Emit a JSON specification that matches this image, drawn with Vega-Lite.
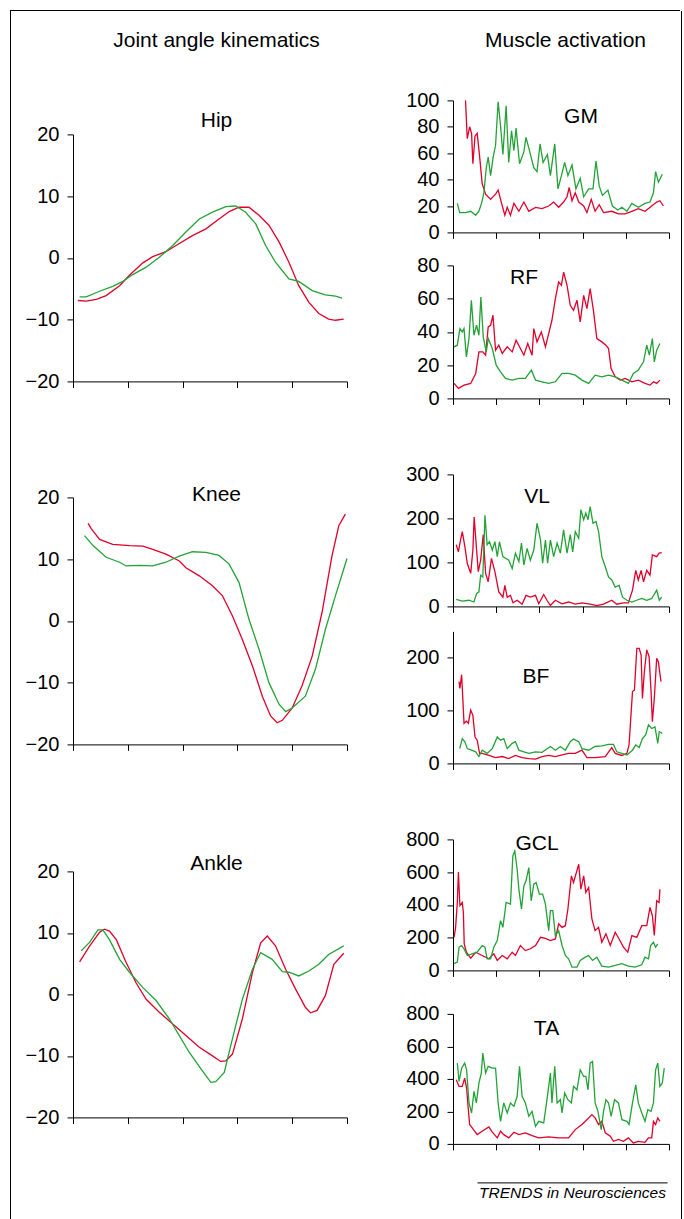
{
"$schema": "https://vega.github.io/schema/vega-lite/v6.json",
"padding": {"left": 10, "top": 10, "right": 0, "bottom": 0},
"config": {
  "font": "Liberation Sans",
  "view": {"stroke": null},
  "axis": {"labelFont": "Liberation Sans", "labelFontSize": 20, "labelColor": "#000", "domainColor": "#000", "tickColor": "#000", "tickSize": 6, "labelPadding": 8, "grid": false, "domainWidth": 1, "tickWidth": 1},
  "title": {"font": "Liberation Sans", "fontSize": 21, "fontWeight": "normal", "color": "#000", "frame": "group", "anchor": "middle"},
  "line": {"strokeWidth": 1.3}
},
"datasets": {
  "hip": [
    {"s":"r","x":1.8,"y":-6.9},{"s":"r","x":4.8,"y":-7.0},{"s":"r","x":8.5,"y":-6.7},{"s":"r","x":12.1,"y":-6.1},{"s":"r","x":17,"y":-4.5},{"s":"r","x":20.6,"y":-2.8},{"s":"r","x":25.5,"y":-0.8},{"s":"r","x":29.1,"y":0.2},{"s":"r","x":33.9,"y":1.0},{"s":"r","x":37.6,"y":2.0},{"s":"r","x":43.6,"y":3.6},{"s":"r","x":48.5,"y":4.7},{"s":"r","x":53.3,"y":6.3},{"s":"r","x":57,"y":7.5},{"s":"r","x":60.6,"y":8.2},{"s":"r","x":64.2,"y":8.2},{"s":"r","x":67.9,"y":6.9},{"s":"r","x":71.5,"y":5.3},{"s":"r","x":75.2,"y":2.6},{"s":"r","x":78.8,"y":-0.7},{"s":"r","x":82.4,"y":-4.5},{"s":"r","x":86.1,"y":-7.2},{"s":"r","x":89.7,"y":-9.0},{"s":"r","x":93.3,"y":-9.9},{"s":"r","x":95.8,"y":-10.1},{"s":"r","x":98.8,"y":-9.9},
    {"s":"g","x":2.4,"y":-6.3},{"s":"g","x":4.8,"y":-6.3},{"s":"g","x":9.7,"y":-5.4},{"s":"g","x":14.5,"y":-4.6},{"s":"g","x":18.2,"y":-3.8},{"s":"g","x":21.8,"y":-2.7},{"s":"g","x":26.7,"y":-1.5},{"s":"g","x":31.5,"y":0.1},{"s":"g","x":36.4,"y":2.0},{"s":"g","x":41.2,"y":4.2},{"s":"g","x":46.1,"y":6.3},{"s":"g","x":50.9,"y":7.4},{"s":"g","x":55.8,"y":8.3},{"s":"g","x":59.4,"y":8.4},{"s":"g","x":63,"y":7.4},{"s":"g","x":66.7,"y":5.5},{"s":"g","x":70.3,"y":2.0},{"s":"g","x":73.9,"y":-0.7},{"s":"g","x":78.8,"y":-3.4},{"s":"g","x":82.4,"y":-3.8},{"s":"g","x":87.3,"y":-5.3},{"s":"g","x":92.1,"y":-6.0},{"s":"g","x":95.8,"y":-6.2},{"s":"g","x":98.2,"y":-6.5}
  ],
  "knee": [
    {"s":"r","x":5.5,"y":15.8},{"s":"r","x":6.7,"y":14.9},{"s":"r","x":9.7,"y":13.2},{"s":"r","x":14.5,"y":12.4},{"s":"r","x":20.6,"y":12.2},{"s":"r","x":25.5,"y":12.1},{"s":"r","x":29.1,"y":11.6},{"s":"r","x":33.9,"y":10.8},{"s":"r","x":38.8,"y":9.7},{"s":"r","x":41.2,"y":8.6},{"s":"r","x":46.1,"y":7.3},{"s":"r","x":50.9,"y":5.7},{"s":"r","x":54.5,"y":4.1},{"s":"r","x":58.2,"y":0.8},{"s":"r","x":61.8,"y":-3.0},{"s":"r","x":65.5,"y":-7.3},{"s":"r","x":69.1,"y":-12.2},{"s":"r","x":72.1,"y":-15.4},{"s":"r","x":74.5,"y":-16.5},{"s":"r","x":76.4,"y":-16.1},{"s":"r","x":80,"y":-14.1},{"s":"r","x":83.6,"y":-10.5},{"s":"r","x":87.3,"y":-5.7},{"s":"r","x":90.9,"y":1.4},{"s":"r","x":94.5,"y":10.5},{"s":"r","x":97,"y":15.4},{"s":"r","x":99.4,"y":17.3},
    {"s":"g","x":4.2,"y":13.8},{"s":"g","x":7.3,"y":12.2},{"s":"g","x":12.1,"y":10.3},{"s":"g","x":17,"y":9.5},{"s":"g","x":19.4,"y":8.9},{"s":"g","x":24.2,"y":9.0},{"s":"g","x":29.1,"y":8.9},{"s":"g","x":33.9,"y":9.5},{"s":"g","x":38.8,"y":10.5},{"s":"g","x":43.6,"y":11.2},{"s":"g","x":48.5,"y":11.1},{"s":"g","x":53.3,"y":10.6},{"s":"g","x":57,"y":9.2},{"s":"g","x":60.6,"y":6.2},{"s":"g","x":64.2,"y":0.3},{"s":"g","x":67.9,"y":-4.6},{"s":"g","x":71.5,"y":-10.0},{"s":"g","x":75.2,"y":-13.5},{"s":"g","x":77.6,"y":-14.7},{"s":"g","x":80,"y":-14.1},{"s":"g","x":84.8,"y":-12.2},{"s":"g","x":88.5,"y":-7.8},{"s":"g","x":92.1,"y":-1.4},{"s":"g","x":95.8,"y":4.1},{"s":"g","x":100,"y":10.1}
  ],
  "ankle": [
    {"s":"r","x":2.4,"y":5.3},{"s":"r","x":6.1,"y":7.9},{"s":"r","x":9.7,"y":10.1},{"s":"r","x":11.5,"y":10.6},{"s":"r","x":13.3,"y":10.3},{"s":"r","x":15.8,"y":8.9},{"s":"r","x":19.4,"y":5.2},{"s":"r","x":23,"y":1.9},{"s":"r","x":26.7,"y":-0.8},{"s":"r","x":31.5,"y":-2.9},{"s":"r","x":36.4,"y":-4.8},{"s":"r","x":41.2,"y":-6.7},{"s":"r","x":46.1,"y":-8.6},{"s":"r","x":50.9,"y":-10.0},{"s":"r","x":53.9,"y":-10.9},{"s":"r","x":55.8,"y":-10.8},{"s":"r","x":58.2,"y":-9.7},{"s":"r","x":61.8,"y":-4.0},{"s":"r","x":65.5,"y":3.6},{"s":"r","x":68.5,"y":8.4},{"s":"r","x":70.9,"y":9.5},{"s":"r","x":73.9,"y":7.9},{"s":"r","x":77.6,"y":4.1},{"s":"r","x":81.2,"y":0.9},{"s":"r","x":84.8,"y":-2.1},{"s":"r","x":86.7,"y":-3.0},{"s":"r","x":89.1,"y":-2.6},{"s":"r","x":92.1,"y":-0.2},{"s":"r","x":95.2,"y":4.9},{"s":"r","x":98.8,"y":6.7},
    {"s":"g","x":3,"y":7.1},{"s":"g","x":6.1,"y":8.5},{"s":"g","x":9.1,"y":10.5},{"s":"g","x":10.9,"y":10.5},{"s":"g","x":13.3,"y":8.9},{"s":"g","x":17,"y":5.7},{"s":"g","x":20.6,"y":3.6},{"s":"g","x":25.5,"y":1.1},{"s":"g","x":30.3,"y":-1.0},{"s":"g","x":35.2,"y":-4.0},{"s":"g","x":38.8,"y":-6.7},{"s":"g","x":42.4,"y":-9.4},{"s":"g","x":46.7,"y":-12.1},{"s":"g","x":50.3,"y":-14.3},{"s":"g","x":52.1,"y":-14.2},{"s":"g","x":55.2,"y":-12.7},{"s":"g","x":58.2,"y":-7.2},{"s":"g","x":61.8,"y":-0.8},{"s":"g","x":65.5,"y":4.1},{"s":"g","x":68.5,"y":6.8},{"s":"g","x":72.7,"y":5.7},{"s":"g","x":76.4,"y":3.7},{"s":"g","x":78.8,"y":3.6},{"s":"g","x":82.4,"y":3.0},{"s":"g","x":86.1,"y":3.8},{"s":"g","x":89.7,"y":4.9},{"s":"g","x":93.3,"y":6.5},{"s":"g","x":98.8,"y":7.9}
  ],
  "GM": [
    {"s":"r","x":5.8,"y":100},{"s":"r","x":6.6,"y":71},{"s":"r","x":7.7,"y":80},{"s":"r","x":8.6,"y":75},{"s":"r","x":9.2,"y":52},{"s":"r","x":10.2,"y":73},{"s":"r","x":11.2,"y":75},{"s":"r","x":12.3,"y":58},{"s":"r","x":13.5,"y":37},{"s":"r","x":15.1,"y":29},{"s":"r","x":17.4,"y":25},{"s":"r","x":19.7,"y":29},{"s":"r","x":20.9,"y":32},{"s":"r","x":22.5,"y":22},{"s":"r","x":24,"y":13},{"s":"r","x":25.1,"y":19},{"s":"r","x":26.6,"y":13},{"s":"r","x":28.2,"y":22},{"s":"r","x":30.5,"y":16},{"s":"r","x":32.8,"y":23},{"s":"r","x":35.1,"y":16},{"s":"r","x":38.2,"y":19},{"s":"r","x":41.2,"y":18},{"s":"r","x":44.3,"y":20},{"s":"r","x":46.6,"y":23},{"s":"r","x":48.9,"y":19},{"s":"r","x":51.2,"y":23},{"s":"r","x":52.8,"y":27},{"s":"r","x":53.8,"y":34},{"s":"r","x":55.1,"y":24},{"s":"r","x":56.6,"y":30},{"s":"r","x":58.2,"y":23},{"s":"r","x":60.5,"y":20},{"s":"r","x":62,"y":15},{"s":"r","x":64,"y":25},{"s":"r","x":65.8,"y":16},{"s":"r","x":67.7,"y":21},{"s":"r","x":69.7,"y":15},{"s":"r","x":73.5,"y":16},{"s":"r","x":76.6,"y":14},{"s":"r","x":79.7,"y":14},{"s":"r","x":82.8,"y":16},{"s":"r","x":85.8,"y":18},{"s":"r","x":88.9,"y":16},{"s":"r","x":92,"y":20},{"s":"r","x":94.3,"y":23},{"s":"r","x":95.8,"y":24},{"s":"r","x":97.4,"y":20},
    {"s":"g","x":2,"y":22},{"s":"g","x":3.1,"y":15},{"s":"g","x":5.8,"y":15},{"s":"g","x":8.2,"y":16},{"s":"g","x":10.5,"y":13},{"s":"g","x":12,"y":16},{"s":"g","x":13.2,"y":22},{"s":"g","x":14.3,"y":30},{"s":"g","x":15.4,"y":49},{"s":"g","x":16.3,"y":57},{"s":"g","x":17.4,"y":43},{"s":"g","x":18.6,"y":57},{"s":"g","x":19.7,"y":66},{"s":"g","x":20.9,"y":99},{"s":"g","x":22,"y":81},{"s":"g","x":23.1,"y":59},{"s":"g","x":24.6,"y":96},{"s":"g","x":25.8,"y":53},{"s":"g","x":27.1,"y":77},{"s":"g","x":28.2,"y":62},{"s":"g","x":29.2,"y":79},{"s":"g","x":30.8,"y":52},{"s":"g","x":32.8,"y":61},{"s":"g","x":33.8,"y":72},{"s":"g","x":35.4,"y":62},{"s":"g","x":37.4,"y":49},{"s":"g","x":38.9,"y":46},{"s":"g","x":40.3,"y":67},{"s":"g","x":41.7,"y":53},{"s":"g","x":43.7,"y":59},{"s":"g","x":45.1,"y":43},{"s":"g","x":47.1,"y":67},{"s":"g","x":48.6,"y":33},{"s":"g","x":50.2,"y":43},{"s":"g","x":51.7,"y":53},{"s":"g","x":53.2,"y":43},{"s":"g","x":55.1,"y":51},{"s":"g","x":56.9,"y":33},{"s":"g","x":58.9,"y":41},{"s":"g","x":60.5,"y":27},{"s":"g","x":62.8,"y":33},{"s":"g","x":64.8,"y":33},{"s":"g","x":66.2,"y":54},{"s":"g","x":67.7,"y":35},{"s":"g","x":69.2,"y":28},{"s":"g","x":71.7,"y":32},{"s":"g","x":73.8,"y":20},{"s":"g","x":76.3,"y":17},{"s":"g","x":78.2,"y":19},{"s":"g","x":80.5,"y":16},{"s":"g","x":82.8,"y":22},{"s":"g","x":85.8,"y":19},{"s":"g","x":88.9,"y":22},{"s":"g","x":91.2,"y":23},{"s":"g","x":92.8,"y":30},{"s":"g","x":93.8,"y":46},{"s":"g","x":95.1,"y":38},{"s":"g","x":96.9,"y":44}
  ],
  "RF": [
    {"s":"r","x":0.5,"y":9},{"s":"r","x":2.5,"y":6},{"s":"r","x":5.1,"y":8},{"s":"r","x":8.2,"y":9},{"s":"r","x":10.5,"y":15},{"s":"r","x":12,"y":28},{"s":"r","x":13.8,"y":28},{"s":"r","x":15.1,"y":26},{"s":"r","x":16.3,"y":43},{"s":"r","x":17.4,"y":44},{"s":"r","x":18.5,"y":50},{"s":"r","x":19.7,"y":29},{"s":"r","x":21.2,"y":32},{"s":"r","x":22.8,"y":27},{"s":"r","x":25.1,"y":31},{"s":"r","x":27.4,"y":28},{"s":"r","x":29.2,"y":35},{"s":"r","x":31.2,"y":30},{"s":"r","x":32.8,"y":26},{"s":"r","x":34.6,"y":33},{"s":"r","x":36.6,"y":26},{"s":"r","x":37.4,"y":42},{"s":"r","x":38.9,"y":34},{"s":"r","x":40.9,"y":40},{"s":"r","x":42.8,"y":31},{"s":"r","x":44.3,"y":39},{"s":"r","x":45.8,"y":47},{"s":"r","x":47.4,"y":60},{"s":"r","x":48.9,"y":70},{"s":"r","x":50.2,"y":68},{"s":"r","x":51.2,"y":76},{"s":"r","x":52.8,"y":68},{"s":"r","x":54.3,"y":56},{"s":"r","x":55.8,"y":53},{"s":"r","x":57.4,"y":59},{"s":"r","x":58.9,"y":46},{"s":"r","x":60.5,"y":62},{"s":"r","x":62,"y":54},{"s":"r","x":63.5,"y":66},{"s":"r","x":65.1,"y":52},{"s":"r","x":66.6,"y":36},{"s":"r","x":68.9,"y":34},{"s":"r","x":70.8,"y":32},{"s":"r","x":72,"y":30},{"s":"r","x":73.2,"y":18},{"s":"r","x":75.1,"y":13},{"s":"r","x":77.4,"y":11},{"s":"r","x":79.7,"y":12},{"s":"r","x":82.8,"y":10},{"s":"r","x":85.8,"y":11},{"s":"r","x":88.9,"y":9},{"s":"r","x":91.2,"y":8},{"s":"r","x":92.8,"y":10},{"s":"r","x":94.3,"y":9},{"s":"r","x":95.8,"y":11},
    {"s":"g","x":0.5,"y":31},{"s":"g","x":2,"y":32},{"s":"g","x":3.2,"y":42},{"s":"g","x":4.3,"y":40},{"s":"g","x":5.1,"y":42},{"s":"g","x":6.2,"y":25},{"s":"g","x":7.4,"y":36},{"s":"g","x":8.5,"y":59},{"s":"g","x":9.7,"y":38},{"s":"g","x":10.9,"y":44},{"s":"g","x":12,"y":38},{"s":"g","x":12.9,"y":61},{"s":"g","x":14,"y":37},{"s":"g","x":15.4,"y":28},{"s":"g","x":16.3,"y":36},{"s":"g","x":18.2,"y":30},{"s":"g","x":20,"y":20},{"s":"g","x":22,"y":16},{"s":"g","x":24.3,"y":12},{"s":"g","x":27.4,"y":11},{"s":"g","x":30.5,"y":12},{"s":"g","x":33.5,"y":12},{"s":"g","x":36.3,"y":17},{"s":"g","x":38.2,"y":11},{"s":"g","x":41.2,"y":10},{"s":"g","x":44.3,"y":9},{"s":"g","x":47.4,"y":10},{"s":"g","x":50.5,"y":15},{"s":"g","x":53.5,"y":15},{"s":"g","x":56.6,"y":14},{"s":"g","x":59.7,"y":11},{"s":"g","x":62.8,"y":9},{"s":"g","x":65.8,"y":14},{"s":"g","x":68.9,"y":13},{"s":"g","x":72,"y":14},{"s":"g","x":75.1,"y":13},{"s":"g","x":78.2,"y":11},{"s":"g","x":81.2,"y":9},{"s":"g","x":83.5,"y":15},{"s":"g","x":85.8,"y":17},{"s":"g","x":88.2,"y":22},{"s":"g","x":89.7,"y":32},{"s":"g","x":90.9,"y":26},{"s":"g","x":92.3,"y":36},{"s":"g","x":93.2,"y":22},{"s":"g","x":94.3,"y":29},{"s":"g","x":95.8,"y":33}
  ],
  "VL": [
    {"s":"r","x":1.5,"y":140},{"s":"r","x":2.5,"y":124},{"s":"r","x":3.5,"y":151},{"s":"r","x":4.3,"y":170},{"s":"r","x":5.5,"y":136},{"s":"r","x":6.6,"y":98},{"s":"r","x":8.2,"y":75},{"s":"r","x":9.2,"y":128},{"s":"r","x":9.8,"y":203},{"s":"r","x":10.8,"y":136},{"s":"r","x":11.7,"y":79},{"s":"r","x":12.8,"y":105},{"s":"r","x":14,"y":163},{"s":"r","x":15.1,"y":75},{"s":"r","x":16.3,"y":56},{"s":"r","x":17.8,"y":109},{"s":"r","x":19.4,"y":79},{"s":"r","x":21.2,"y":33},{"s":"r","x":23.1,"y":21},{"s":"r","x":24,"y":48},{"s":"r","x":25.1,"y":21},{"s":"r","x":26.6,"y":25},{"s":"r","x":27.8,"y":8},{"s":"r","x":29.7,"y":14},{"s":"r","x":32,"y":5},{"s":"r","x":33.8,"y":25},{"s":"r","x":35.8,"y":21},{"s":"r","x":38.2,"y":25},{"s":"r","x":39.7,"y":6},{"s":"r","x":42,"y":27},{"s":"r","x":43.5,"y":14},{"s":"r","x":45.1,"y":2},{"s":"r","x":47.4,"y":14},{"s":"r","x":50.5,"y":6},{"s":"r","x":53.5,"y":10},{"s":"r","x":56.6,"y":5},{"s":"r","x":59.7,"y":8},{"s":"r","x":63.5,"y":5},{"s":"r","x":66.6,"y":2},{"s":"r","x":69.7,"y":5},{"s":"r","x":73.5,"y":14},{"s":"r","x":75.8,"y":5},{"s":"r","x":78.9,"y":8},{"s":"r","x":81.2,"y":8},{"s":"r","x":83.1,"y":37},{"s":"r","x":84.6,"y":82},{"s":"r","x":85.8,"y":60},{"s":"r","x":87.1,"y":82},{"s":"r","x":88.2,"y":56},{"s":"r","x":89.7,"y":82},{"s":"r","x":91.2,"y":71},{"s":"r","x":92.3,"y":117},{"s":"r","x":94.3,"y":113},{"s":"r","x":95.4,"y":121},{"s":"r","x":96.6,"y":122},
    {"s":"g","x":1.5,"y":16},{"s":"g","x":4.3,"y":12},{"s":"g","x":7.4,"y":14},{"s":"g","x":9.7,"y":10},{"s":"g","x":10.9,"y":29},{"s":"g","x":12,"y":33},{"s":"g","x":12.8,"y":71},{"s":"g","x":13.8,"y":67},{"s":"g","x":14.8,"y":207},{"s":"g","x":15.8,"y":140},{"s":"g","x":16.9,"y":147},{"s":"g","x":18.2,"y":128},{"s":"g","x":19.4,"y":147},{"s":"g","x":20.5,"y":113},{"s":"g","x":21.5,"y":147},{"s":"g","x":23.1,"y":113},{"s":"g","x":25.8,"y":105},{"s":"g","x":27.4,"y":86},{"s":"g","x":28.9,"y":121},{"s":"g","x":30.5,"y":102},{"s":"g","x":31.7,"y":144},{"s":"g","x":32.8,"y":94},{"s":"g","x":34.3,"y":132},{"s":"g","x":35.8,"y":105},{"s":"g","x":37.4,"y":128},{"s":"g","x":38.9,"y":189},{"s":"g","x":40.5,"y":151},{"s":"g","x":41.5,"y":98},{"s":"g","x":42.8,"y":151},{"s":"g","x":43.8,"y":98},{"s":"g","x":45.1,"y":151},{"s":"g","x":46.6,"y":113},{"s":"g","x":48.2,"y":144},{"s":"g","x":49.7,"y":121},{"s":"g","x":51.2,"y":174},{"s":"g","x":52.8,"y":121},{"s":"g","x":54.3,"y":163},{"s":"g","x":55.4,"y":124},{"s":"g","x":56.6,"y":170},{"s":"g","x":58.2,"y":155},{"s":"g","x":59.2,"y":220},{"s":"g","x":60.5,"y":197},{"s":"g","x":61.5,"y":212},{"s":"g","x":62.5,"y":197},{"s":"g","x":63.5,"y":227},{"s":"g","x":64.8,"y":189},{"s":"g","x":66.2,"y":193},{"s":"g","x":67.4,"y":170},{"s":"g","x":68.9,"y":113},{"s":"g","x":70.5,"y":90},{"s":"g","x":72,"y":67},{"s":"g","x":73.5,"y":60},{"s":"g","x":75.1,"y":44},{"s":"g","x":76.9,"y":48},{"s":"g","x":78.5,"y":21},{"s":"g","x":80.5,"y":14},{"s":"g","x":82.8,"y":10},{"s":"g","x":85,"y":14},{"s":"g","x":87.4,"y":18},{"s":"g","x":89.7,"y":14},{"s":"g","x":92,"y":18},{"s":"g","x":94.3,"y":37},{"s":"g","x":95.5,"y":14},{"s":"g","x":96.6,"y":21}
  ],
  "BF": [
    {"s":"r","x":2.8,"y":155},{"s":"r","x":3.2,"y":142},{"s":"r","x":4,"y":168},{"s":"r","x":5.1,"y":76},{"s":"r","x":6.2,"y":80},{"s":"r","x":7.1,"y":76},{"s":"r","x":8.2,"y":101},{"s":"r","x":9.2,"y":91},{"s":"r","x":10.2,"y":50},{"s":"r","x":11.2,"y":44},{"s":"r","x":12.3,"y":19},{"s":"r","x":13.5,"y":19},{"s":"r","x":16.6,"y":15},{"s":"r","x":19.7,"y":11},{"s":"r","x":22.8,"y":13},{"s":"r","x":25.8,"y":9},{"s":"r","x":28.9,"y":15},{"s":"r","x":32,"y":11},{"s":"r","x":35.1,"y":9},{"s":"r","x":38.2,"y":8},{"s":"r","x":41.2,"y":13},{"s":"r","x":44.3,"y":15},{"s":"r","x":47.4,"y":13},{"s":"r","x":50.5,"y":16},{"s":"r","x":53.5,"y":19},{"s":"r","x":56.6,"y":19},{"s":"r","x":59.7,"y":25},{"s":"r","x":62,"y":11},{"s":"r","x":65.8,"y":11},{"s":"r","x":70.5,"y":13},{"s":"r","x":73.5,"y":30},{"s":"r","x":75.1,"y":19},{"s":"r","x":78.2,"y":15},{"s":"r","x":80.5,"y":19},{"s":"r","x":81.5,"y":35},{"s":"r","x":82.5,"y":98},{"s":"r","x":83.1,"y":136},{"s":"r","x":84,"y":139},{"s":"r","x":85.1,"y":218},{"s":"r","x":86.2,"y":218},{"s":"r","x":87.1,"y":205},{"s":"r","x":87.7,"y":123},{"s":"r","x":88.6,"y":174},{"s":"r","x":89.7,"y":215},{"s":"r","x":90.8,"y":202},{"s":"r","x":91.7,"y":136},{"s":"r","x":92.3,"y":79},{"s":"r","x":93.2,"y":123},{"s":"r","x":94.3,"y":199},{"s":"r","x":95.1,"y":192},{"s":"r","x":95.8,"y":170},{"s":"r","x":96.3,"y":155},
    {"s":"g","x":3.1,"y":28},{"s":"g","x":4.3,"y":47},{"s":"g","x":5.5,"y":41},{"s":"g","x":6.6,"y":28},{"s":"g","x":8.6,"y":25},{"s":"g","x":10.5,"y":22},{"s":"g","x":12,"y":13},{"s":"g","x":13.5,"y":25},{"s":"g","x":15.8,"y":19},{"s":"g","x":18.2,"y":28},{"s":"g","x":20.5,"y":50},{"s":"g","x":22,"y":44},{"s":"g","x":23.5,"y":47},{"s":"g","x":25.1,"y":28},{"s":"g","x":27.4,"y":38},{"s":"g","x":28.9,"y":41},{"s":"g","x":30.5,"y":25},{"s":"g","x":32.8,"y":22},{"s":"g","x":35.1,"y":19},{"s":"g","x":38.2,"y":22},{"s":"g","x":41.2,"y":21},{"s":"g","x":45.1,"y":32},{"s":"g","x":47.4,"y":25},{"s":"g","x":49.7,"y":32},{"s":"g","x":52,"y":25},{"s":"g","x":54.3,"y":41},{"s":"g","x":55.8,"y":46},{"s":"g","x":58.2,"y":41},{"s":"g","x":59.7,"y":28},{"s":"g","x":62.8,"y":25},{"s":"g","x":65.8,"y":32},{"s":"g","x":68.9,"y":33},{"s":"g","x":72,"y":36},{"s":"g","x":74.3,"y":36},{"s":"g","x":75.8,"y":22},{"s":"g","x":78.2,"y":19},{"s":"g","x":80.5,"y":16},{"s":"g","x":83.1,"y":25},{"s":"g","x":84.6,"y":35},{"s":"g","x":86.2,"y":30},{"s":"g","x":87.7,"y":47},{"s":"g","x":89.2,"y":54},{"s":"g","x":90.5,"y":73},{"s":"g","x":92,"y":66},{"s":"g","x":93.5,"y":69},{"s":"g","x":94.8,"y":38},{"s":"g","x":95.5,"y":60},{"s":"g","x":96.9,"y":57}
  ],
  "GCL": [
    {"s":"r","x":0.5,"y":202},{"s":"r","x":1.2,"y":263},{"s":"r","x":2,"y":415},{"s":"r","x":2.5,"y":601},{"s":"r","x":3.2,"y":395},{"s":"r","x":4.3,"y":415},{"s":"r","x":4.8,"y":354},{"s":"r","x":5.2,"y":162},{"s":"r","x":6.2,"y":111},{"s":"r","x":8.2,"y":75},{"s":"r","x":10.5,"y":111},{"s":"r","x":13.5,"y":91},{"s":"r","x":16.6,"y":71},{"s":"r","x":18.9,"y":101},{"s":"r","x":20.5,"y":61},{"s":"r","x":22.8,"y":91},{"s":"r","x":25.1,"y":71},{"s":"r","x":27.4,"y":111},{"s":"r","x":28.9,"y":91},{"s":"r","x":31.2,"y":152},{"s":"r","x":33.5,"y":121},{"s":"r","x":35.8,"y":132},{"s":"r","x":38.2,"y":152},{"s":"r","x":40.5,"y":202},{"s":"r","x":42.8,"y":196},{"s":"r","x":45.1,"y":182},{"s":"r","x":47.4,"y":192},{"s":"r","x":48.9,"y":284},{"s":"r","x":50.5,"y":263},{"s":"r","x":52,"y":273},{"s":"r","x":53.2,"y":375},{"s":"r","x":54.8,"y":577},{"s":"r","x":55.8,"y":537},{"s":"r","x":57.1,"y":597},{"s":"r","x":58.2,"y":648},{"s":"r","x":59.2,"y":496},{"s":"r","x":60.5,"y":577},{"s":"r","x":61.5,"y":476},{"s":"r","x":62.8,"y":506},{"s":"r","x":64.3,"y":314},{"s":"r","x":65.8,"y":243},{"s":"r","x":67.4,"y":263},{"s":"r","x":68.9,"y":172},{"s":"r","x":70.8,"y":223},{"s":"r","x":72.8,"y":152},{"s":"r","x":75.1,"y":233},{"s":"r","x":76.9,"y":192},{"s":"r","x":78.9,"y":142},{"s":"r","x":80.9,"y":111},{"s":"r","x":82.8,"y":213},{"s":"r","x":85.1,"y":202},{"s":"r","x":87.4,"y":273},{"s":"r","x":89.7,"y":273},{"s":"r","x":91.2,"y":385},{"s":"r","x":92.3,"y":334},{"s":"r","x":93.2,"y":213},{"s":"r","x":94.3,"y":425},{"s":"r","x":95.4,"y":415},{"s":"r","x":95.8,"y":496},
    {"s":"g","x":0.5,"y":41},{"s":"g","x":2,"y":51},{"s":"g","x":2.8,"y":142},{"s":"g","x":4,"y":152},{"s":"g","x":5.1,"y":132},{"s":"g","x":6.6,"y":91},{"s":"g","x":8.9,"y":101},{"s":"g","x":11.2,"y":111},{"s":"g","x":13.5,"y":152},{"s":"g","x":14.8,"y":142},{"s":"g","x":15.8,"y":71},{"s":"g","x":17.4,"y":71},{"s":"g","x":18.9,"y":142},{"s":"g","x":20.5,"y":182},{"s":"g","x":22,"y":304},{"s":"g","x":23.1,"y":263},{"s":"g","x":24.6,"y":415},{"s":"g","x":26.6,"y":405},{"s":"g","x":27.7,"y":699},{"s":"g","x":28.6,"y":729},{"s":"g","x":29.7,"y":618},{"s":"g","x":30.5,"y":496},{"s":"g","x":31.7,"y":375},{"s":"g","x":32.8,"y":516},{"s":"g","x":33.8,"y":547},{"s":"g","x":35.1,"y":628},{"s":"g","x":36.2,"y":425},{"s":"g","x":37.4,"y":527},{"s":"g","x":38.5,"y":537},{"s":"g","x":40,"y":466},{"s":"g","x":41.5,"y":466},{"s":"g","x":42.8,"y":405},{"s":"g","x":44.3,"y":243},{"s":"g","x":45.1,"y":365},{"s":"g","x":46.2,"y":365},{"s":"g","x":47.4,"y":213},{"s":"g","x":48.9,"y":243},{"s":"g","x":50.5,"y":152},{"s":"g","x":52,"y":91},{"s":"g","x":53.5,"y":71},{"s":"g","x":55.1,"y":20},{"s":"g","x":57.4,"y":20},{"s":"g","x":58.9,"y":61},{"s":"g","x":61.2,"y":81},{"s":"g","x":62.8,"y":91},{"s":"g","x":64.6,"y":61},{"s":"g","x":66.6,"y":81},{"s":"g","x":68.9,"y":26},{"s":"g","x":72,"y":20},{"s":"g","x":75.1,"y":30},{"s":"g","x":78.2,"y":41},{"s":"g","x":81.2,"y":26},{"s":"g","x":84.3,"y":20},{"s":"g","x":87.4,"y":34},{"s":"g","x":88.9,"y":81},{"s":"g","x":90.5,"y":71},{"s":"g","x":91.5,"y":152},{"s":"g","x":92.8,"y":172},{"s":"g","x":93.8,"y":142},{"s":"g","x":94.8,"y":162}
  ],
  "TA": [
    {"s":"r","x":1.5,"y":395},{"s":"r","x":2.8,"y":354},{"s":"r","x":4.3,"y":354},{"s":"r","x":5.4,"y":405},{"s":"r","x":6.3,"y":344},{"s":"r","x":7.1,"y":211},{"s":"r","x":7.7,"y":119},{"s":"r","x":8.9,"y":98},{"s":"r","x":11.2,"y":57},{"s":"r","x":13.5,"y":78},{"s":"r","x":16.6,"y":104},{"s":"r","x":18.2,"y":72},{"s":"r","x":20.5,"y":37},{"s":"r","x":22,"y":78},{"s":"r","x":23.5,"y":57},{"s":"r","x":25.8,"y":37},{"s":"r","x":28.2,"y":72},{"s":"r","x":30.5,"y":57},{"s":"r","x":33.5,"y":68},{"s":"r","x":36.6,"y":51},{"s":"r","x":39.7,"y":37},{"s":"r","x":44.3,"y":43},{"s":"r","x":48.9,"y":37},{"s":"r","x":53.5,"y":37},{"s":"r","x":56.6,"y":88},{"s":"r","x":59.7,"y":119},{"s":"r","x":62,"y":149},{"s":"r","x":64.3,"y":180},{"s":"r","x":65.8,"y":160},{"s":"r","x":67.4,"y":119},{"s":"r","x":68.9,"y":139},{"s":"r","x":70.5,"y":68},{"s":"r","x":72.8,"y":47},{"s":"r","x":74.3,"y":16},{"s":"r","x":76.6,"y":27},{"s":"r","x":78.9,"y":16},{"s":"r","x":81.2,"y":37},{"s":"r","x":83.5,"y":6},{"s":"r","x":85.8,"y":16},{"s":"r","x":88.9,"y":10},{"s":"r","x":90.5,"y":37},{"s":"r","x":92,"y":37},{"s":"r","x":92.8,"y":139},{"s":"r","x":93.8,"y":119},{"s":"r","x":94.8,"y":160},{"s":"r","x":95.8,"y":139},
    {"s":"g","x":2,"y":497},{"s":"g","x":2.8,"y":385},{"s":"g","x":4,"y":466},{"s":"g","x":5.4,"y":497},{"s":"g","x":6.3,"y":456},{"s":"g","x":7.4,"y":252},{"s":"g","x":8.6,"y":190},{"s":"g","x":9.7,"y":323},{"s":"g","x":10.8,"y":252},{"s":"g","x":12,"y":374},{"s":"g","x":13.1,"y":436},{"s":"g","x":13.8,"y":559},{"s":"g","x":15.1,"y":436},{"s":"g","x":16.3,"y":477},{"s":"g","x":18.2,"y":466},{"s":"g","x":19.7,"y":466},{"s":"g","x":20.9,"y":252},{"s":"g","x":22,"y":139},{"s":"g","x":23.5,"y":252},{"s":"g","x":25.1,"y":190},{"s":"g","x":26.6,"y":252},{"s":"g","x":28.2,"y":231},{"s":"g","x":29.7,"y":293},{"s":"g","x":30.8,"y":477},{"s":"g","x":32,"y":293},{"s":"g","x":33.5,"y":252},{"s":"g","x":35.1,"y":170},{"s":"g","x":36.6,"y":200},{"s":"g","x":38.2,"y":108},{"s":"g","x":39.7,"y":139},{"s":"g","x":42,"y":129},{"s":"g","x":43.5,"y":272},{"s":"g","x":45.1,"y":436},{"s":"g","x":45.8,"y":252},{"s":"g","x":47.1,"y":477},{"s":"g","x":48.2,"y":252},{"s":"g","x":49.7,"y":272},{"s":"g","x":50.5,"y":190},{"s":"g","x":51.7,"y":313},{"s":"g","x":53.2,"y":272},{"s":"g","x":54.8,"y":252},{"s":"g","x":55.8,"y":354},{"s":"g","x":57.4,"y":333},{"s":"g","x":58.9,"y":456},{"s":"g","x":60.5,"y":415},{"s":"g","x":61.5,"y":415},{"s":"g","x":62.5,"y":333},{"s":"g","x":63.5,"y":497},{"s":"g","x":64.6,"y":507},{"s":"g","x":65.8,"y":252},{"s":"g","x":67.1,"y":200},{"s":"g","x":68.6,"y":88},{"s":"g","x":69.7,"y":200},{"s":"g","x":70.8,"y":272},{"s":"g","x":72,"y":252},{"s":"g","x":73.2,"y":170},{"s":"g","x":74.8,"y":272},{"s":"g","x":76.6,"y":252},{"s":"g","x":78.2,"y":149},{"s":"g","x":80.5,"y":139},{"s":"g","x":81.5,"y":119},{"s":"g","x":83.1,"y":252},{"s":"g","x":84.6,"y":364},{"s":"g","x":85.8,"y":252},{"s":"g","x":87.4,"y":190},{"s":"g","x":88.9,"y":139},{"s":"g","x":90.2,"y":211},{"s":"g","x":91.7,"y":200},{"s":"g","x":92.8,"y":252},{"s":"g","x":93.8,"y":456},{"s":"g","x":94.8,"y":497},{"s":"g","x":95.8,"y":354},{"s":"g","x":96.9,"y":374},{"s":"g","x":97.8,"y":466}
  ]
},
"spacing": 0,
"vconcat": [
  {"width": 670, "height": 1, "view": {"fill": "#000", "stroke": null}, "data": {"values": []}, "mark": "point"},
  {"spacing": 14, "hconcat": [
    {"width": 1, "height": 1210, "view": {"fill": "#000", "stroke": null}, "data": {"values": []}, "mark": "point"},
    {"spacing": 11, "hconcat": [
      {"spacing": 55, "hconcat": [
        {"spacing": 57.4, "vconcat": [
          {"width": 274, "height": 41, "title": {"text": "Joint angle kinematics", "offset": -40.1, "dx": 6.5}, "data": {"values": []}, "mark": "point"},
          {"spacing": 98, "vconcat": [
            {"spacing": 92, "vconcat": [
              {"width": 274, "height": 247, "title": {"text": "Hip", "offset": -6.8, "dx": 6.5}, "data": {"name": "hip"}, "mark": "line",
               "encoding": {"x": {"field": "x", "type": "quantitative", "scale": {"domain": [0, 100], "nice": false}, "axis": {"values": [0, 20, 40, 60, 80, 100], "labels": false, "title": null}},
                            "y": {"field": "y", "type": "quantitative", "scale": {"domain": [-20, 20], "nice": false}, "axis": {"values": [-20, -10, 0, 10, 20], "title": null}},
                            "color": {"field": "s", "type": "nominal", "scale": {"domain": ["g", "r"], "range": ["#23a337", "#e0002b"]}, "legend": null}}},
              {"width": 274, "height": 247, "title": {"text": "Knee", "offset": -17.7, "dx": 6.5}, "data": {"name": "knee"}, "mark": "line",
               "encoding": {"x": {"field": "x", "type": "quantitative", "scale": {"domain": [0, 100], "nice": false}, "axis": {"values": [0, 20, 40, 60, 80, 100], "labels": false, "title": null}},
                            "y": {"field": "y", "type": "quantitative", "scale": {"domain": [-20, 20], "nice": false}, "axis": {"values": [-20, -10, 0, 10, 20], "title": null}},
                            "color": {"field": "s", "type": "nominal", "scale": {"domain": ["g", "r"], "range": ["#23a337", "#e0002b"]}, "legend": null}}}
            ]},
            {"width": 274, "height": 246, "title": {"text": "Ankle", "offset": -12.2, "dx": 6.5}, "data": {"name": "ankle"}, "mark": "line",
             "encoding": {"x": {"field": "x", "type": "quantitative", "scale": {"domain": [0, 100], "nice": false}, "axis": {"values": [0, 20, 40, 60, 80, 100], "labels": false, "title": null}},
                          "y": {"field": "y", "type": "quantitative", "scale": {"domain": [-20, 20], "nice": false}, "axis": {"values": [-20, -10, 0, 10, 20], "title": null}},
                          "color": {"field": "s", "type": "nominal", "scale": {"domain": ["g", "r"], "range": ["#23a337", "#e0002b"]}, "legend": null}}}
          ]}
        ]},
        {"spacing": 38.4, "vconcat": [
          {"width": 216, "height": 41, "title": {"text": "Muscle activation", "offset": -40.1, "dx": 4.5}, "data": {"values": []}, "mark": "point"},
          {"spacing": 56, "vconcat": [
            {"spacing": 13, "vconcat": [
              {"width": 216, "height": 132, "title": {"text": "GM", "offset": -36.5, "dx": 20}, "data": {"name": "GM"}, "mark": "line",
               "encoding": {"x": {"field": "x", "type": "quantitative", "scale": {"domain": [0, 100], "nice": false}, "axis": {"values": [0, 20, 40, 60, 80, 100], "labels": false, "title": null}},
                            "y": {"field": "y", "type": "quantitative", "scale": {"domain": [0, 100], "nice": false}, "axis": {"values": [0, 20, 40, 60, 80, 100], "title": null}},
                            "color": {"field": "s", "type": "nominal", "scale": {"domain": ["g", "r"], "range": ["#23a337", "#e0002b"]}, "legend": null}}},
              {"width": 216, "height": 133, "title": {"text": "RF", "offset": -32.5, "dx": -37}, "data": {"name": "RF"}, "mark": "line",
               "encoding": {"x": {"field": "x", "type": "quantitative", "scale": {"domain": [0, 100], "nice": false}, "axis": {"values": [0, 20, 40, 60, 80, 100], "labels": false, "title": null}},
                            "y": {"field": "y", "type": "quantitative", "scale": {"domain": [0, 80], "nice": false}, "axis": {"values": [0, 20, 40, 60, 80], "title": null}},
                            "color": {"field": "s", "type": "nominal", "scale": {"domain": ["g", "r"], "range": ["#23a337", "#e0002b"]}, "legend": null}}}
            ]},
            {"spacing": 15, "vconcat": [
              {"width": 216, "height": 132, "title": {"text": "VL", "offset": -42.5, "dx": -24}, "data": {"name": "VL"}, "mark": "line",
               "encoding": {"x": {"field": "x", "type": "quantitative", "scale": {"domain": [0, 100], "nice": false}, "axis": {"values": [0, 20, 40, 60, 80, 100], "labels": false, "title": null}},
                            "y": {"field": "y", "type": "quantitative", "scale": {"domain": [0, 300], "nice": false}, "axis": {"values": [0, 100, 200, 300], "title": null}},
                            "color": {"field": "s", "type": "nominal", "scale": {"domain": ["g", "r"], "range": ["#23a337", "#e0002b"]}, "legend": null}}},
              {"width": 216, "height": 132, "title": {"text": "BF", "offset": -55.4, "dx": -25}, "data": {"name": "BF"}, "mark": "line",
               "encoding": {"x": {"field": "x", "type": "quantitative", "scale": {"domain": [0, 100], "nice": false}, "axis": {"values": [0, 20, 40, 60, 80, 100], "labels": false, "title": null}},
                            "y": {"field": "y", "type": "quantitative", "scale": {"domain": [0, 250], "nice": false}, "axis": {"values": [0, 100, 200], "title": null}},
                            "color": {"field": "s", "type": "nominal", "scale": {"domain": ["g", "r"], "range": ["#23a337", "#e0002b"]}, "legend": null}}}
            ]},
            {"spacing": 23.5, "vconcat": [
              {"width": 216, "height": 131, "title": {"text": "GCL", "offset": -24.1, "dx": -24}, "data": {"name": "GCL"}, "mark": "line",
               "encoding": {"x": {"field": "x", "type": "quantitative", "scale": {"domain": [0, 100], "nice": false}, "axis": {"values": [0, 20, 40, 60, 80, 100], "labels": false, "title": null}},
                            "y": {"field": "y", "type": "quantitative", "scale": {"domain": [0, 800], "nice": false}, "axis": {"values": [0, 200, 400, 600, 800], "title": null}},
                            "color": {"field": "s", "type": "nominal", "scale": {"domain": ["g", "r"], "range": ["#23a337", "#e0002b"]}, "legend": null}}},
              {"width": 216, "height": 130, "title": {"text": "TA", "offset": -35.2, "dx": -14.5}, "data": {"name": "TA"}, "mark": "line",
               "encoding": {"x": {"field": "x", "type": "quantitative", "scale": {"domain": [0, 100], "nice": false}, "axis": {"values": [0, 20, 40, 60, 80, 100], "labels": false, "title": null}},
                            "y": {"field": "y", "type": "quantitative", "scale": {"domain": [0, 800], "nice": false}, "axis": {"values": [0, 200, 400, 600, 800], "title": null}},
                            "color": {"field": "s", "type": "nominal", "scale": {"domain": ["g", "r"], "range": ["#23a337", "#e0002b"]}, "legend": null}}},
              {"spacing": 23, "hconcat": [
                {"width": 1, "height": 1, "data": {"values": []}, "mark": "point"},
                {"width": 190, "height": 5, "data": {"values": []}, "mark": "point",
                 "encoding": {"x": {"field": "x", "type": "quantitative", "scale": {"domain": [0, 1]}, "axis": {"title": "TRENDS in Neurosciences", "labels": false, "ticks": false, "titleFont": "Liberation Sans", "titleFontStyle": "italic", "titleFontWeight": "normal", "titleFontSize": 15.5, "titleColor": "#000", "titlePadding": 3}}}}
              ]}
            ]}
          ]}
        ]}
      ]},
      {"width": 1, "height": 1210, "view": {"fill": "#000", "stroke": null}, "data": {"values": []}, "mark": "point"}
    ]}
  ]}
]
}
